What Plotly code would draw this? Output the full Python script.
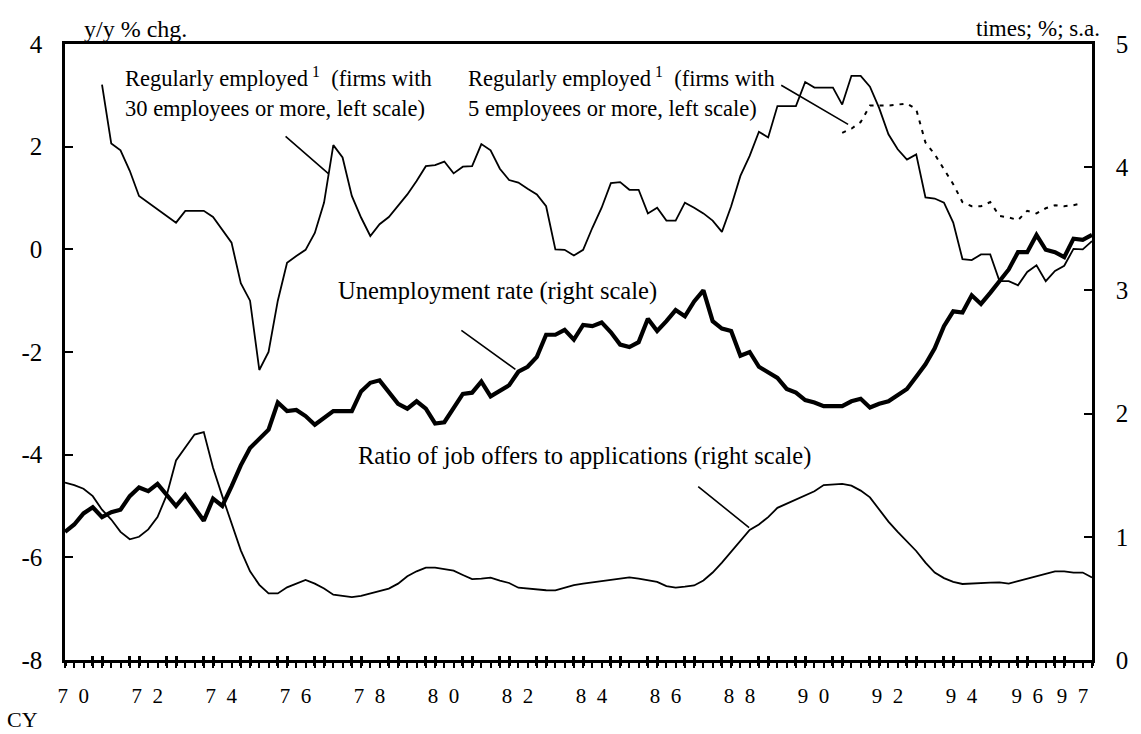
import plotly.graph_objects as go

# ---------------- data (quarterly, 1970Q1 .. 1997Q4) ----------------
quarters = list(range(112))

unemployment = [1.04, 1.10, 1.19, 1.24, 1.16, 1.20, 1.22, 1.33, 1.40, 1.37,
                1.43, 1.34, 1.25, 1.34, 1.24, 1.13, 1.31, 1.25, 1.41, 1.58,
                1.72, 1.80, 1.87, 2.09, 2.02, 2.03, 1.98, 1.91, 1.96, 2.02,
                2.02, 2.02, 2.18, 2.25, 2.27, 2.18, 2.08, 2.04, 2.10, 2.04,
                1.92, 1.93, 2.05, 2.16, 2.17, 2.26, 2.14, 2.19, 2.23, 2.34,
                2.38, 2.46, 2.64, 2.64, 2.68, 2.60, 2.72, 2.71, 2.74, 2.66,
                2.56, 2.54, 2.58, 2.77, 2.67, 2.75, 2.84, 2.79, 2.91, 3.00,
                2.75, 2.69, 2.67, 2.47, 2.50, 2.38, 2.33, 2.29, 2.20, 2.17,
                2.11, 2.09, 2.06, 2.06, 2.06, 2.10, 2.12, 2.05, 2.08, 2.10,
                2.15, 2.20, 2.30, 2.40, 2.53, 2.71, 2.83, 2.82, 2.96, 2.89,
                2.98, 3.08, 3.17, 3.31, 3.31, 3.45, 3.33, 3.31, 3.27, 3.42,
                3.41, 3.45]

job_ratio = [1.44, 1.42, 1.39, 1.33, 1.22, 1.14, 1.04, 0.98, 1.00, 1.06,
             1.16, 1.34, 1.62, 1.72, 1.83, 1.85, 1.56, 1.33, 1.11, 0.89,
             0.72, 0.61, 0.54, 0.54, 0.59, 0.62, 0.65, 0.62, 0.58, 0.53,
             0.52, 0.51, 0.52, 0.54, 0.56, 0.58, 0.62, 0.68, 0.72, 0.75,
             0.75, 0.74, 0.725, 0.69, 0.657, 0.66, 0.668, 0.645, 0.625, 0.587,
             0.58, 0.572, 0.566, 0.565, 0.585, 0.607, 0.62, 0.628, 0.638, 0.65,
             0.66, 0.67, 0.66, 0.647, 0.634, 0.60, 0.588, 0.595, 0.605, 0.645,
             0.71, 0.79, 0.88, 0.97, 1.055, 1.10, 1.16, 1.235, 1.27, 1.305,
             1.335, 1.37, 1.42, 1.426, 1.429, 1.415, 1.375, 1.32, 1.22, 1.123,
             1.04, 0.96, 0.885, 0.79, 0.71, 0.665, 0.635, 0.617, 0.622, 0.628,
             0.628, 0.63, 0.62, 0.64, 0.66, 0.68, 0.70, 0.72, 0.72, 0.71,
             0.71, 0.67]

employed_30 = [None, None, None, None, 3.21, 2.06, 1.93, 1.53, 1.04, 0.91,
               0.78, 0.65, 0.52, 0.75, 0.75, 0.75, 0.63, 0.39, 0.13, -0.66,
               -1.00, -2.35, -2.00, -1.00, -0.26, -0.13, -0.01, 0.32, 0.91, 2.03,
               1.79, 1.04, 0.62, 0.26, 0.49, 0.63, 0.85, 1.07, 1.33, 1.62,
               1.64, 1.71, 1.48, 1.61, 1.62, 2.05, 1.93, 1.57, 1.35, 1.30,
               1.18, 1.07, 0.84, 0.00, -0.01, -0.12, -0.01, 0.42, 0.81, 1.29,
               1.31, 1.16, 1.16, 0.70, 0.81, 0.56, 0.56, 0.91, 0.81, 0.70,
               0.56, 0.34, 0.84, 1.43, 1.82, 2.29, 2.18, 2.79, 2.79, 2.79,
               3.26, 3.15, 3.15, 3.15, 2.82, 3.38, 3.38, 3.17, 2.75, 2.24,
               1.95, 1.75, 1.85, 1.01, 0.99, 0.91, 0.52, -0.19, -0.21, -0.10,
               -0.10, -0.62, -0.62, -0.70, -0.44, -0.31, -0.62, -0.42, -0.32, 0.01,
               0.00, 0.16]

employed_5 = [None] * 84 + [2.27, 2.35, 2.48, 2.80, 2.80, 2.80, 2.82, 2.84, 2.73, 2.08,
                            1.85, 1.55, 1.27, 0.92, 0.84, 0.84, 0.92, 0.65, 0.62, 0.57,
                            0.75, 0.70, 0.80, 0.86, 0.84, 0.86, 0.90] + [None]

year_labels = ["7 0", "7 2", "7 4", "7 6", "7 8", "8 0", "8 2", "8 4", "8 6",
               "8 8", "9 0", "9 2", "9 4", "9 6", "9 7"]
year_label_pos = [0.9, 8.9, 16.9, 24.9, 32.9, 40.9, 48.9, 56.9, 64.9,
                  72.9, 80.9, 88.9, 96.9, 104.0, 108.9]

left_ticks = [4, 2, 0, -2, -4, -6, -8]
left_text = ["4", "2", "0", "-2", "-4", "-6", "-8"]
right_ticks = [0, 1, 2, 3, 4, 5]
right_text = ["0", "1", "2", "3", "4", "5"]

# ---------------- styling ----------------
FONT = "Liberation Serif, Times New Roman, serif"
XR = [0, 111]
bold_pos = [0] + [p for k in range(28) for p in (4 * k + 3, 4 * k + 4) if p <= 111]
year_text = [t.replace(" ", "\u00a0\u00a0") for t in year_labels]

fig = go.Figure()
fig.add_trace(go.Scatter(x=quarters, y=job_ratio, yaxis="y2", mode="lines",
                         line=dict(color="black", width=1.8), hoverinfo="skip"))
fig.add_trace(go.Scatter(x=quarters, y=unemployment, yaxis="y2", mode="lines",
                         line=dict(color="black", width=4.2), hoverinfo="skip"))
fig.add_trace(go.Scatter(x=quarters, y=employed_30, mode="lines",
                         line=dict(color="black", width=1.8), hoverinfo="skip"))
fig.add_trace(go.Scatter(x=quarters, y=employed_5, mode="lines",
                         line=dict(color="black", width=2, dash="4px,6px"), hoverinfo="skip"))
fig.add_trace(go.Scatter(x=[None], y=[None], xaxis="x2", mode="lines", hoverinfo="skip"))
fig.add_trace(go.Scatter(x=[None], y=[None], xaxis="x3", mode="lines", hoverinfo="skip"))

fig.update_layout(
    width=1141, height=734,
    margin=dict(l=65, r=39, t=44, b=74, pad=0),
    paper_bgcolor="white", plot_bgcolor="white",
    showlegend=False,
    font=dict(family=FONT, size=22, color="black"),
    xaxis=dict(range=XR, tickmode="array", tickvals=year_label_pos, ticktext=year_text,
               ticks="outside", ticklen=0, showline=True, linewidth=2.5, linecolor="black",
               mirror=True, showgrid=False, zeroline=False,
               tickfont=dict(family=FONT, size=21), ticklabelstandoff=15,
               minor=dict(tickmode="linear", tick0=0, dtick=1, ticks="outside", ticklen=5,
                          tickwidth=1.5, tickcolor="black", showgrid=False)),
    xaxis2=dict(range=XR, overlaying="x", anchor="y", side="bottom", tickmode="array",
                tickvals=bold_pos, ticks="outside", ticklen=5, tickwidth=3, tickcolor="black",
                showticklabels=False, showline=False, showgrid=False, zeroline=False),
    xaxis3=dict(range=XR, overlaying="x", anchor="y", side="bottom", tickmode="array",
                tickvals=bold_pos, ticks="inside", ticklen=4, tickwidth=3, tickcolor="black",
                showticklabels=False, showline=False, showgrid=False, zeroline=False),
    yaxis=dict(range=[-8, 4], tickmode="array", tickvals=left_ticks, ticktext=left_text,
               ticks="inside", ticklen=8, tickwidth=1.5, tickcolor="black",
               showline=True, linewidth=2.5, linecolor="black", showgrid=False, zeroline=False,
               tickfont=dict(family=FONT, size=25), ticklabelstandoff=15),
    yaxis2=dict(range=[0, 5], overlaying="y", side="right", anchor="x", tickmode="array",
                tickvals=right_ticks, ticktext=right_text,
                ticks="inside", ticklen=8, tickwidth=1.5, tickcolor="black",
                showline=True, linewidth=2.5, linecolor="black", showgrid=False, zeroline=False,
                tickfont=dict(family=FONT, size=25), ticklabelstandoff=16),
)

emp_font = dict(family=FONT, size=22.5, color="black")
big_font = dict(family=FONT, size=24.5, color="black")
sp = "\u00a0"
labels = [
    dict(x=6.32, y=3.06, font=emp_font,
         text="Regularly employed<sup>" + sp + "1</sup>" + sp + " (firms with<br>30 employees or more, left scale)"),
    dict(x=43.32, y=3.06, font=emp_font,
         text="Regularly employed<sup>" + sp + "1</sup>" + sp + " (firms with<br>5 employees or more, left scale)"),
    dict(x=29.28, y=-0.81, font=big_font, text="Unemployment rate (right scale)"),
    dict(x=31.43, y=-4.03, font=big_font, text="Ratio of job offers to applications (right scale)"),
]
for a in labels:
    fig.add_annotation(x=a["x"], y=a["y"], xref="x", yref="y", text=a["text"],
                       showarrow=False, xanchor="left", yanchor="middle", align="left",
                       font=a["font"])

leaders = [
    (23.68, 2.227, 28.47, 1.475),
    (77.25, 3.214, 84.64, 2.435),
    (42.68, -1.559, 48.68, -2.338),
    (68.28, -4.598, 73.94, -5.422),
]
for (x0, y0, x1, y1) in leaders:
    fig.add_annotation(x=x1, y=y1, ax=x0, ay=y0, xref="x", yref="y", axref="x", ayref="y",
                       text="", showarrow=True, arrowhead=0, arrowwidth=1.6,
                       arrowcolor="black", standoff=0, startstandoff=0)

fig.add_annotation(x=0.0164, y=1.0244, xref="paper", yref="paper", text="y/y % chg.",
                   showarrow=False, xanchor="left", yanchor="middle",
                   font=dict(family=FONT, size=24, color="black"))
fig.add_annotation(x=1.010, y=1.0244, xref="paper", yref="paper", text="times; %; s.a.",
                   showarrow=False, xanchor="right", yanchor="middle",
                   font=dict(family=FONT, size=23, color="black"))
fig.add_annotation(x=-0.0415, y=-0.0974, xref="paper", yref="paper", text="CY",
                   showarrow=False, xanchor="center", yanchor="middle",
                   font=dict(family=FONT, size=22, color="black"))

fig.write_html("out.html", config={"displayModeBar": False},
               post_script="document.body.style.margin='0px';document.body.style.overflow='hidden';")
